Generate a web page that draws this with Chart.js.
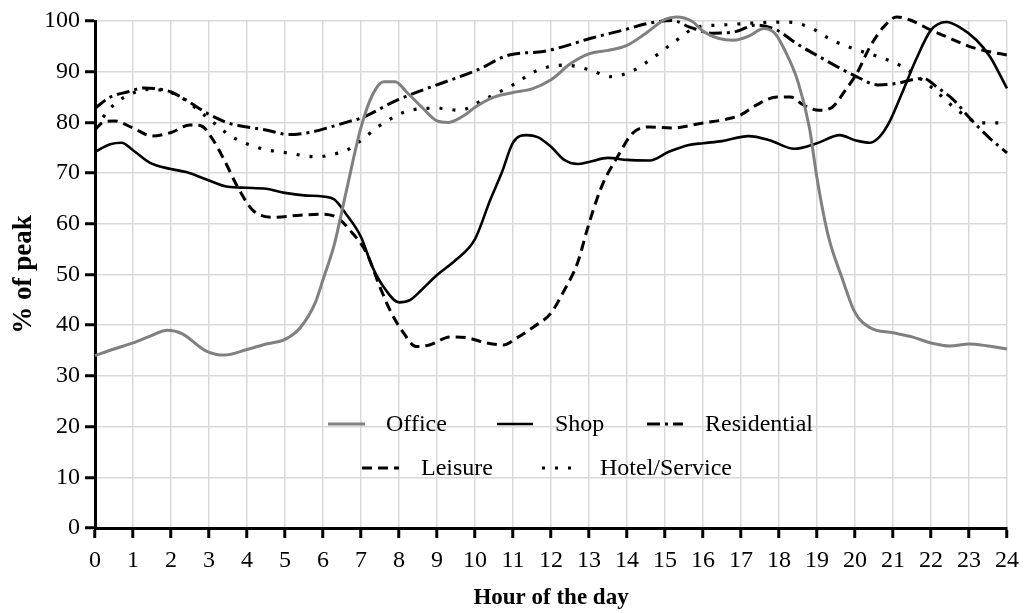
<!DOCTYPE html>
<html>
<head>
<meta charset="utf-8">
<script src="https://cdn.jsdelivr.net/npm/chart.js@4.4.1/dist/chart.umd.min.js"></script>
<style>
  html, body { margin: 0; padding: 0; background: #ffffff; }
  #wrap { width: 1024px; height: 613px; position: relative; }
</style>
</head>
<body>
<div id="wrap"><canvas id="c" width="1024" height="613"></canvas></div>
<script>
// ---- Data ----
const xTicks = [0,1,2,3,4,5,6,7,8,9,10,11,12,13,14,15,16,17,18,19,20,21,22,23,24];
const yTicks = [0,10,20,30,40,50,60,70,80,90,100];

const officeHours = [0,0.5,1,1.5,1.9,2.3,2.9,3.4,4,4.5,5,5.4,5.8,6,6.3,6.6,7,7.3,7.6,7.9,8.2,8.6,9,9.3,9.7,10,10.5,11,11.5,12,12.5,13,13.5,14,14.5,15,15.3,15.7,16,16.4,16.8,17.2,17.6,17.9,18.2,18.5,18.8,19,19.3,19.65,20,20.4,21,21.5,22,22.5,23,23.5,24];
const officeValues = [34,35.3,36.5,38,39,38.3,35,34.1,35.2,36.3,37.2,39.5,44.5,49,56,66,79,85.4,88,88,86,83,80.3,80,81.3,83,85,85.9,86.6,88.4,91.5,93.5,94.2,95.2,97.6,100.3,100.8,100,98,96.6,96.2,97,98.5,97.5,93.5,88,79,69,57.5,49.5,42.5,39.5,38.5,37.7,36.5,35.9,36.3,35.9,35.3];

const shopHours = [0,0.4,0.7,1,1.45,2,2.4,2.95,3.5,4,4.5,5,5.5,6,6.3,6.6,7,7.3,7.6,8,8.3,8.6,9,9.5,10,10.4,10.7,11,11.35,11.65,12,12.35,12.7,13,13.5,14,14.6,15.1,15.6,16,16.5,17.2,17.75,18.4,19,19.6,20,20.4,20.65,20.9,21.25,21.6,22,22.4,22.75,23.2,23.55,24];
const shopValues = [74.2,75.7,76,74.5,72,70.8,70.2,68.7,67.3,67.1,66.9,66.1,65.6,65.4,64.8,62,57.4,51.5,47.5,44.5,45,47,49.9,52.9,57,64.7,70,76,77.5,77.1,75.2,72.6,71.8,72.2,73,72.6,72.5,74.2,75.5,75.9,76.3,77.3,76.5,74.8,75.9,77.5,76.5,76,77.2,80,86,92.3,98.2,99.8,98.8,96.2,93,86.7];

const residentialHours = [0,0.4,0.85,1.3,1.65,2,2.4,2.95,3.5,4,4.5,5.1,5.7,6.2,6.65,7.05,7.95,9,10.05,10.9,11.8,12.35,13.05,13.9,14.6,15.2,15.65,16.25,16.8,17.4,17.95,18.45,19.05,19.7,20.05,20.6,21.1,21.5,21.8,22.15,22.6,23,23.5,24];
const residentialValues = [82.8,85,86,86.8,86.6,86,84.4,81.8,79.9,79.1,78.5,77.6,78.1,79.1,80.1,81,84.4,87.4,90.3,93.3,94,95,96.6,98.2,99.6,100.1,98.8,97.6,97.8,99.2,98.2,95.6,93,90.3,89,87.4,87.7,88.4,88.7,87,84.4,81,77.2,74];

const leisureHours = [0,0.2,0.5,1,1.5,2,2.5,2.8,3.05,3.4,3.75,4.15,4.7,5.4,6,6.4,6.7,7.15,7.5,7.8,8.1,8.45,8.8,9.35,9.8,10.3,10.75,11.1,11.55,12,12.35,12.7,12.95,13.2,13.4,13.75,14.15,14.6,15.2,16,16.6,17,17.4,17.95,18.3,18.65,19.05,19.4,19.75,20.05,20.4,20.75,21.1,21.45,22,22.5,23,23.5,24];
const leisureValues = [78.5,80,80.3,78.9,77.3,78,79.5,79.3,77.2,72.6,67.3,62.7,61.3,61.7,61.9,61.1,58.8,54.2,47.5,42.4,38.7,35.8,36.1,37.7,37.5,36.5,36.1,37.5,39.7,42.4,46.9,52.3,58.8,64.7,68.5,73.2,77.9,79.1,78.9,79.9,80.6,81.5,83.4,85,85,83.4,82.4,83,86.4,89.7,95,98.8,100.8,100.2,98.2,96.6,95,94,93.3];

const hotelHours = [0,0.5,1,1.4,1.8,2.25,2.95,3.6,4.35,5.05,5.85,6.2,6.65,6.9,7.6,8.3,9,9.6,10.2,11,11.65,12.35,13.05,13.55,14.1,14.6,15.25,15.85,16.5,17.3,18.2,18.8,19.4,20.05,20.6,21.25,22,22.7,23.3,23.85];
const hotelValues = [79,83.5,85.8,86.5,86.3,85,81,77.2,74.9,74,73.2,73.6,74.6,75.9,79.9,82.4,82.8,82.4,84.4,87.4,90.3,91.3,90.3,89,90,92.3,95.9,98.8,99.2,99.6,99.8,98.8,96.2,94.3,93,91,87,82.4,79.9,79.9];

const seriesNames = ['Office','Shop','Residential','Leisure','Hotel/Service'];

function pts(hours, values) { return hours.map((h, i) => ({x: h, y: values[i]})); }

const FONT = "'Liberation Serif', 'Times New Roman', serif";

const styles = {
  'Office':        {color: '#808080', width: 3,   dash: []},
  'Shop':          {color: '#000000', width: 2.6, dash: []},
  'Residential':   {color: '#000000', width: 3,   dash: [13,5,3,5]},
  'Leisure':       {color: '#000000', width: 3,   dash: [10,6]},
  'Hotel/Service': {color: '#000000', width: 3.2, dash: [3,10]}
};

function ds(name, hours, values) {
  const s = styles[name];
  return {
    label: name,
    data: pts(hours, values),
    borderColor: s.color,
    backgroundColor: s.color,
    borderWidth: s.width,
    borderDash: s.dash,
    pointRadius: 0,
    cubicInterpolationMode: 'monotone',
    fill: false,
    clip: false
  };
}

// Legend drawn inside the plot area
const legendLayout = [
  {name: 'Office',        lx0: 328, lx1: 365, tx: 386, y: 424},
  {name: 'Shop',          lx0: 497, lx1: 533, tx: 555, y: 424},
  {name: 'Residential',   lx0: 647, lx1: 683, tx: 705, y: 424},
  {name: 'Leisure',       lx0: 362, lx1: 399, tx: 421, y: 468},
  {name: 'Hotel/Service', lx0: 542, lx1: 577, tx: 600, y: 468}
];
const insideLegend = {
  id: 'insideLegend',
  afterDatasetsDraw(chart) {
    const ctx = chart.ctx;
    ctx.save();
    legendLayout.forEach(item => {
      const s = styles[item.name];
      ctx.beginPath();
      ctx.strokeStyle = s.color;
      ctx.lineWidth = s.width;
      ctx.setLineDash(s.dash);
      ctx.moveTo(item.lx0, item.y);
      ctx.lineTo(item.lx1, item.y);
      ctx.stroke();
      ctx.setLineDash([]);
      ctx.fillStyle = '#000';
      ctx.font = "24px " + FONT;
      ctx.textBaseline = 'middle';
      ctx.textAlign = 'left';
      ctx.fillText(item.name, item.tx, item.y + 1);
    });
    ctx.restore();
  }
};

new Chart(document.getElementById('c'), {
  type: 'line',
  data: {
    datasets: [
      ds('Office', officeHours, officeValues),
      ds('Shop', shopHours, shopValues),
      ds('Residential', residentialHours, residentialValues),
      ds('Leisure', leisureHours, leisureValues),
      ds('Hotel/Service', hotelHours, hotelValues)
    ]
  },
  options: {
    responsive: false,
    animation: false,
    devicePixelRatio: 1,
    layout: { padding: { top: 21, right: 17, bottom: 0, left: 0 } },
    plugins: {
      legend: { display: false },
      tooltip: { enabled: false }
    },
    scales: {
      x: {
        type: 'linear',
        min: 0, max: 24,
        afterBuildTicks(scale) { scale.ticks = xTicks.map(v => ({value: v})); },
        afterFit(scale) { scale.height = 85; scale.paddingRight = 0; scale.paddingLeft = 0; },
        grid: { color: '#d9d9d9', lineWidth: 1.5, drawTicks: true, tickLength: 10, tickColor: '#000', tickWidth: 3 },
        border: { display: true, color: '#000', width: 3 },
        ticks: { color: '#000', font: { family: FONT, size: 24 }, padding: 8, maxRotation: 0, autoSkip: false },
        title: { display: true, text: 'Hour of the day', color: '#000', font: { family: FONT, size: 23, weight: 'bold' }, padding: { top: 0, bottom: 1 } }
      },
      y: {
        type: 'linear',
        min: 0, max: 100,
        afterBuildTicks(scale) { scale.ticks = yTicks.map(v => ({value: v})); },
        afterFit(scale) { scale.width = 95; },
        grid: { color: '#d9d9d9', lineWidth: 1.5, drawTicks: true, tickLength: 10, tickColor: '#000', tickWidth: 3 },
        border: { display: true, color: '#000', width: 3 },
        ticks: { color: '#000', font: { family: FONT, size: 24 }, padding: 5 },
        title: { display: true, text: '% of peak', color: '#000', font: { family: FONT, size: 27, weight: 'bold' }, padding: { top: 8, bottom: 0 } }
      }
    }
  },
  plugins: [insideLegend]
});
</script>
</body>
</html>
